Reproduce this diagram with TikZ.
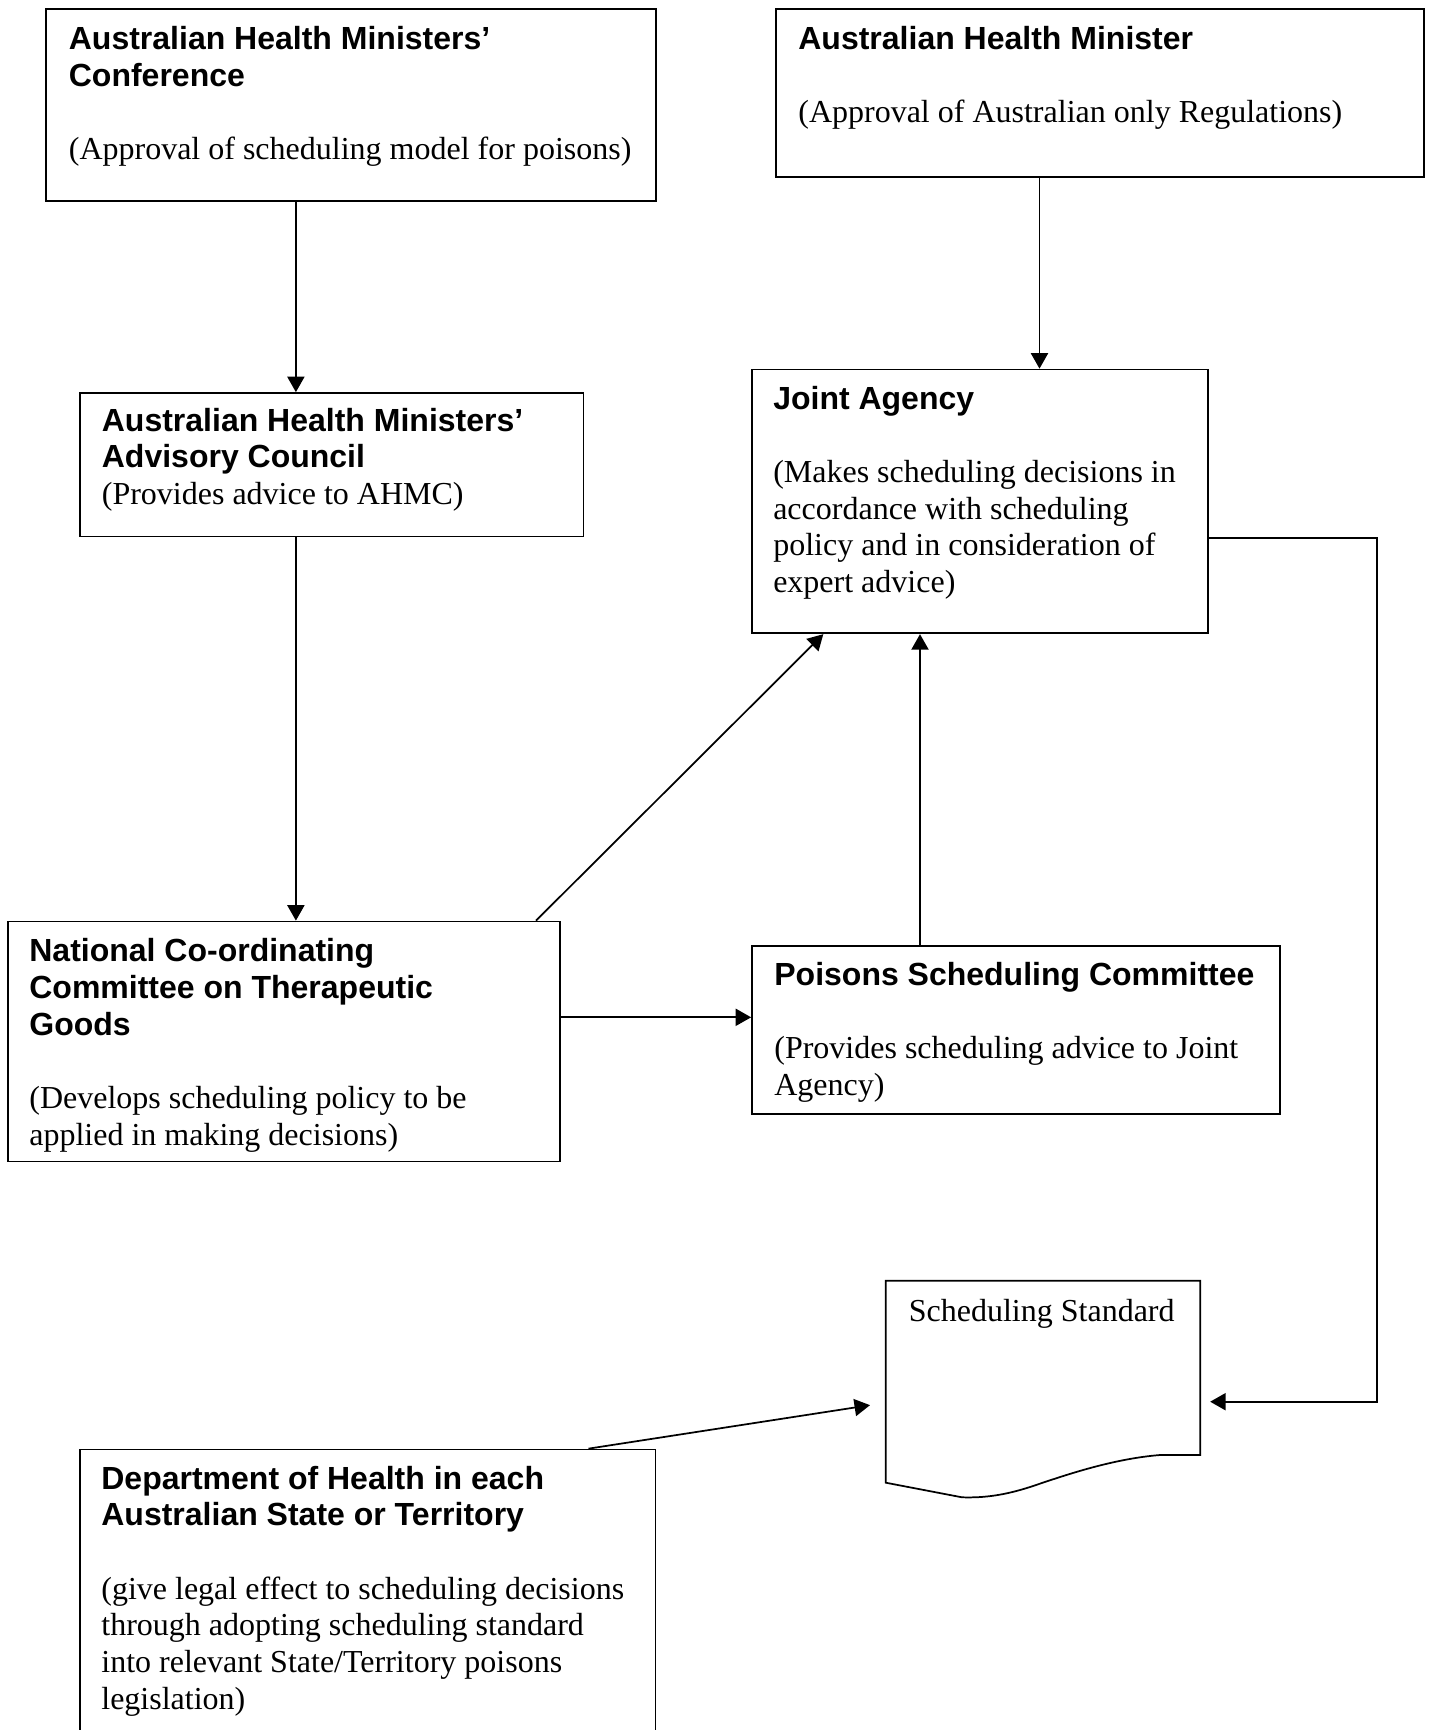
\documentclass[tikz,border=0pt]{standalone}
\usepackage{fontspec}
\setmainfont{Liberation Serif}
\newfontfamily\hsans{Liberation Sans}
\usetikzlibrary{arrows.meta,fit}
\newcommand\boxtitle[1]{{\hsans\bfseries #1}}
\begin{document}
\begin{tikzpicture}[x=0.375pt,y=-0.375pt,
  line width=0.65pt,
  box/.style={draw, inner sep=0pt},
  area/.style={inner sep=0pt},
  txt/.style={anchor=base west, inner sep=0pt, text width=240pt, align=flush left,
              font=\fontsize{12}{13.75}\selectfont},
  arr/.style={-{Triangle[length=5.8pt,width=6.4pt]}}]
\useasboundingbox (0,0) rectangle (1434,1730);

% boxes
\node[box, fit={(46.3,8.8) (656.3,200.8)}] (ahmc) {};
\node[box, fit={(776,9) (1424,176.7)}] (ahm) {};
\node[box, fit={(80,393) (583.5,536.5)}] (ahmac) {};
\node[box, fit={(752,369.5) (1208.3,633.3)}] (ja) {};
\node[box, fit={(7.7,921.5) (559.8,1161.6)}] (ncctg) {};
\node[box, fit={(752,945.7) (1280,1114)}] (psc) {};
\node[box, fit={(80,1449.5) (655.5,1745)}] (doh) {};
\node[area, fit={(886.7,1281.5) (1199.3,1454)}] (doc) {};

% document shape
\draw (doc.south west |- 0,1482.7) -- (doc.north west) -- (doc.north east) -- (doc.south east)
  -- (1160,1455) .. controls (1110,1459) and (1060,1477) .. (1030,1487)
  .. controls (1005,1495) and (985,1498) .. (962,1497.3) -- cycle;

% texts
\node[txt] (ahmc-t) at (68,49.8) {\boxtitle{Australian Health Ministers’}\\
  \boxtitle{Conference}\\[13.75pt]
  (Approval of scheduling model for poisons)};
\node[txt] (ahm-t) at (797.5,49) {\boxtitle{Australian Health Minister}\\[13.75pt]
  (Approval of Australian only Regulations)};
\node[txt] (ahmac-t) at (101,431.3) {\boxtitle{Australian Health Ministers’}\\
  \boxtitle{Advisory Council}\\
  (Provides advice to AHMC)};
\node[txt] (ja-t) at (772.4,409.3) {\boxtitle{Joint Agency}\\[13.75pt]
  (Makes scheduling decisions in\\
  accordance with scheduling\\
  policy and in consideration of\\
  expert advice)};
\node[txt] (ncctg-t) at (28.5,961.7) {\boxtitle{National Co-ordinating}\\
  \boxtitle{Committee on Therapeutic}\\
  \boxtitle{Goods}\\[13.75pt]
  (Develops scheduling policy to be\\
  applied in making decisions)};
\node[txt] (psc-t) at (773.5,985) {\boxtitle{Poisons Scheduling Committee}\\[13.75pt]
  (Provides scheduling advice to Joint\\
  Agency)};
\node[txt] (doc-t) at (908,1321) {Scheduling Standard};
\node[txt] (doh-t) at (100.5,1489.3) {\boxtitle{Department of Health in each}\\
  \boxtitle{Australian State or Territory}\\[13.75pt]
  (give legal effect to scheduling decisions\\
  through adopting scheduling standard\\
  into relevant State/Territory poisons\\
  legislation)};

% connector helper coordinates
\coordinate (xa) at (295.9,0);
\coordinate (xb) at (1039.5,0);
\coordinate (xc) at (536,0);
\coordinate (xd) at (823.3,0);
\coordinate (xe) at (920,0);
\coordinate (xg) at (588.5,0);
\coordinate (ya) at (0,1017.3);
\coordinate (r1) at (1376.7,537.7);
\coordinate (r2) at (1376.7,1401.7);
\coordinate (yd) at (0,1402.7);

% connectors
\draw[arr] (ahmc.south -| xa) -- (ahmac.north -| xa);
\draw[arr] (ahmac.south -| xa) -- (ncctg.north -| xa);
\draw[arr] (ahm.south -| xb) -- (ja.north -| xb);
\draw[arr] (ncctg.north -| xc) -- (ja.south -| xd);
\draw[arr] (ncctg.east |- ya) -- (psc.west |- ya);
\draw[arr] (psc.north -| xe) -- (ja.south -| xe);
\draw[arr, shorten >=3.75pt] (ja.east |- r1) -- (r1) -- (r2) -- (doc.east |- r2);
\draw[arr, shorten >=6pt] (doh.north -| xg) -- (doc.west |- yd);
\end{tikzpicture}
\end{document}
